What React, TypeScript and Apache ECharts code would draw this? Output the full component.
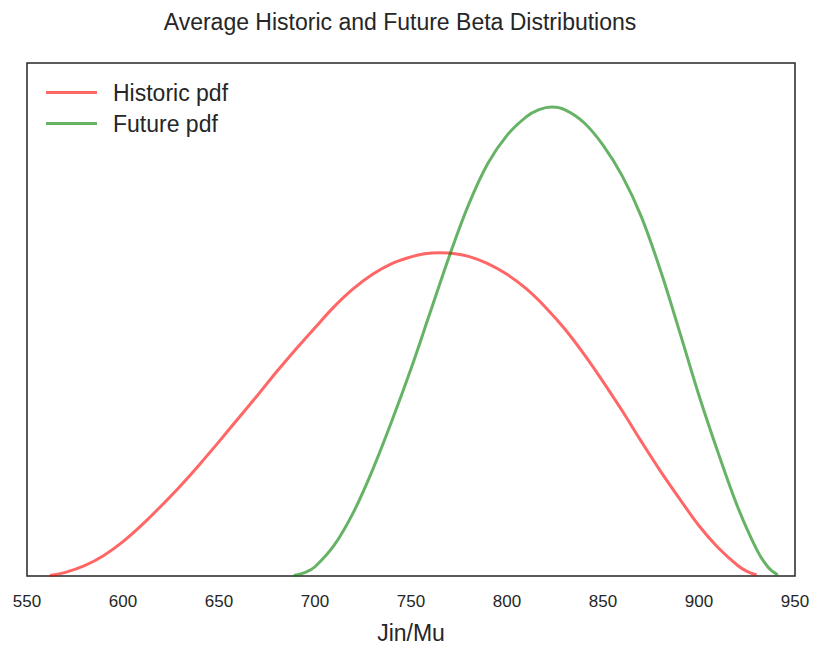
import React, { useEffect, useRef } from "react";
import * as echarts from "echarts";

// Yield (Jin/Mu) sample points and relative density of each curve
const historicX = [562, 570, 580, 590, 600, 610, 620, 630, 640, 650, 660, 670, 680, 690, 700, 710, 720, 730, 740, 750, 757, 765, 773, 780, 790, 800, 810, 820, 830, 840, 850, 860, 870, 880, 890, 900, 910, 920, 925, 930];
const historicY = [0.001, 0.007, 0.02, 0.04, 0.067, 0.1, 0.137, 0.176, 0.218, 0.262, 0.307, 0.352, 0.398, 0.442, 0.484, 0.525, 0.56, 0.588, 0.609, 0.622, 0.628, 0.63, 0.628, 0.623, 0.609, 0.588, 0.56, 0.524, 0.482, 0.433, 0.379, 0.322, 0.262, 0.204, 0.15, 0.098, 0.055, 0.021, 0.009, 0.002];

const futureX = [689, 695, 700, 710, 720, 730, 740, 750, 760, 770, 780, 790, 800, 810, 816.7, 823.4, 830, 840, 850, 860, 870, 880, 890, 900, 910, 920, 930, 936, 941];
const futureY = [0.001, 0.007, 0.018, 0.06, 0.124, 0.207, 0.302, 0.404, 0.514, 0.624, 0.724, 0.804, 0.859, 0.895, 0.909, 0.914, 0.909, 0.884, 0.84, 0.78, 0.7, 0.595, 0.475, 0.352, 0.24, 0.136, 0.052, 0.017, 0.002];

const xTicks = [550, 600, 650, 700, 750, 800, 850, 900, 950];

const FONT = "'Liberation Sans', Arial, sans-serif";
const INK = "#262626";

const zip = (xs: number[], ys: number[]) => xs.map((x, i) => [x, ys[i]]);

export default function App() {
  const ref = useRef<HTMLDivElement>(null);

  useEffect(() => {
    if (!ref.current) return;
    const chart = echarts.init(ref.current, undefined, { renderer: "svg" });
    chart.setOption({
      animation: false,
      backgroundColor: "#ffffff",
      title: {
        text: "Average Historic and Future Beta Distributions",
        left: 395,
        textAlign: "center",
        top: 5,
        textStyle: { fontFamily: FONT, fontSize: 23, fontWeight: "normal", color: INK },
      },
      legend: {
        left: 41,
        top: 76,
        orient: "vertical",
        icon: "rect",
        itemWidth: 51,
        itemHeight: 3,
        itemGap: 8,
        textStyle: { fontFamily: FONT, fontSize: 23, color: INK, padding: [0, 0, 0, 11] },
        data: ["Historic pdf", "Future pdf"],
      },
      grid: {
        left: 27,
        right: 22,
        top: 63,
        bottom: 72,
        show: true,
        borderColor: INK,
        borderWidth: 1.5,
      },
      xAxis: {
        type: "value",
        min: 550,
        max: 950,
        interval: 50,
        name: "Jin/Mu",
        nameLocation: "middle",
        nameGap: 45,
        nameTextStyle: { fontFamily: FONT, fontSize: 23, color: INK },
        axisLine: { show: false },
        axisTick: { show: false },
        splitLine: { show: false },
        axisLabel: {
          fontFamily: FONT,
          fontSize: 17,
          color: INK,
          margin: 17,
          formatter: (v: number) => (xTicks.includes(v) ? String(v) : ""),
        },
      },
      yAxis: {
        type: "value",
        min: 0,
        max: 1,
        axisLine: { show: false },
        axisTick: { show: false },
        axisLabel: { show: false },
        splitLine: { show: false },
      },
      series: [
        {
          name: "Historic pdf",
          type: "line",
          data: zip(historicX, historicY),
          showSymbol: false,
          smooth: 0.35,
          color: "rgba(255,0,0,0.6)",
          lineStyle: { width: 3, color: "rgba(255,0,0,0.6)" },
        },
        {
          name: "Future pdf",
          type: "line",
          data: zip(futureX, futureY),
          showSymbol: false,
          smooth: 0.35,
          color: "rgba(0,128,0,0.6)",
          lineStyle: { width: 3, color: "rgba(0,128,0,0.6)" },
        },
      ],
    });
    return () => chart.dispose();
  }, []);

  return <div ref={ref} style={{ width: 817, height: 649, position: "absolute", left: 0, top: 0 }} />;
}
